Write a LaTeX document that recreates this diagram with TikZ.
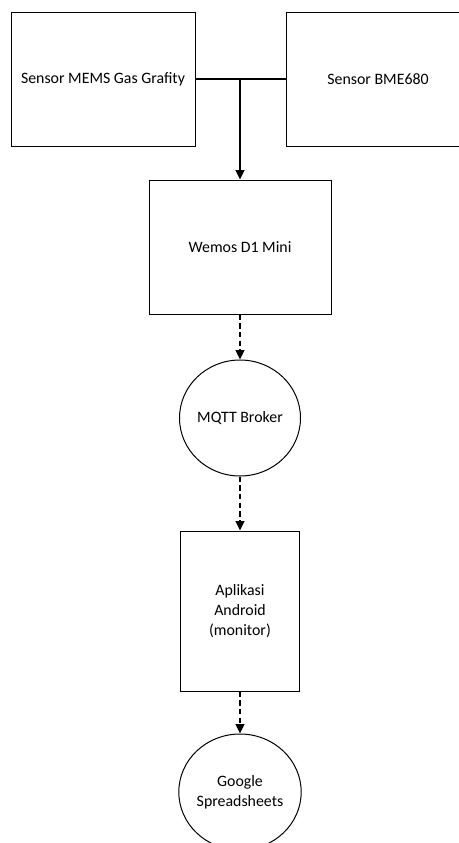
\documentclass[tikz,border=0pt]{standalone}
\usepackage{fontspec}
\setmainfont{Carlito}
\usetikzlibrary{arrows.meta,shapes.geometric}
\tikzset{
    block/.style ={
        shape=rectangle,
        draw=black,
        line width=0.75pt,
        align=center,
        inner sep=0pt,
        font=\fontsize{11.9}{14.8}\selectfont
    },
    bubble/.style ={
        shape=ellipse,
        draw=black,
        line width=0.75pt,
        align=center,
        inner sep=0pt,
        minimum width=90pt,
        minimum height=87pt,
        font=\fontsize{11.9}{14.8}\selectfont
    },
    solidlink/.style ={
        line width=1.5pt,
        -{Triangle[length=7pt,width=6.5pt]}
    },
    dashlink/.style ={
        line width=1.1pt,
        dash pattern=on 4pt off 2.5pt,
        -{Triangle[length=7pt,width=6.5pt]}
    }
}

\begin{document}
\begin{tikzpicture}[x=0.75pt,y=-0.75pt]
    \useasboundingbox (0,0) rectangle (459,843);
    \clip (0,0) rectangle (459,843);
    \node[block,minimum width=138pt,minimum height=100.5pt] (mems) at(103,79) {Sensor MEMS Gas Grafity};
    \node[block,minimum width=138pt,minimum height=100.5pt] (bme) at(378,79) {Sensor BME680};
    \node[block,minimum width=136.5pt,minimum height=100.5pt] (wemos) at(240,247) {Wemos D1 Mini};
    \node[bubble] (mqtt) at(240,418) {MQTT Broker};
    \node[block,minimum width=89.5pt,minimum height=120pt] (android) at(240,611) {Aplikasi\\Android\\(monitor)};
    \node[bubble] (google) at(240,792) {Google\\Spreadsheets};
    \coordinate (join) at(240,79);
    \draw[line width=1.5pt] (mems) -- (bme);
    \draw[solidlink] (join) -- (wemos);
    \draw[dashlink] (wemos) -- (mqtt);
    \draw[dashlink] (mqtt) -- (android);
    \draw[dashlink] (android) -- (google);
\end{tikzpicture}
\end{document}
